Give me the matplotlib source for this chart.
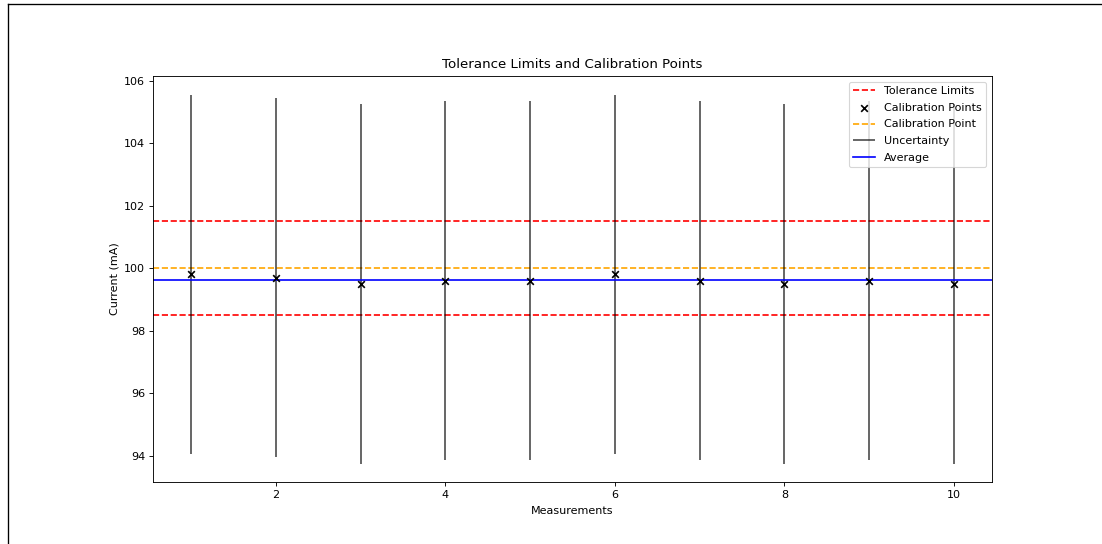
import numpy as np
import matplotlib
matplotlib.use("Agg")
import matplotlib.pyplot as plt
from matplotlib.lines import Line2D

# Calibration readings (mA) and their uncertainty
measurements = np.arange(1, 11)
readings = [99.8, 99.7, 99.5, 99.6, 99.6, 99.8, 99.6, 99.5, 99.6, 99.5]
uncertainty = [5.75] * 10
calibration_point = 100.0
tolerance = [98.5, 101.5]

readings = np.array(readings)
uncertainty = np.array(uncertainty)
average = readings.mean()

DPI = 80
fig = plt.figure(figsize=(1102 / DPI, 544 / DPI), dpi=DPI)
ax = fig.add_axes([0.1388, 0.114, 0.7614, 0.746])

ax.axhline(tolerance[1], color="red", linestyle="--", label="Tolerance Limits")
ax.axhline(tolerance[0], color="red", linestyle="--")
ax.scatter(measurements, readings, marker="x", color="black", label="Calibration Points", zorder=3)
ax.axhline(calibration_point, color="orange", linestyle="--", label="Calibration Point")
ax.vlines(measurements, readings - uncertainty, readings + uncertainty,
          color="black", alpha=0.7, label="Uncertainty")
ax.axhline(average, color="blue", label="Average")

ax.set_title("Tolerance Limits and Calibration Points", pad=7)
ax.set_xlabel("Measurements", labelpad=5.5)
ax.set_ylabel("Current (mA)")
ax.legend(loc="upper right", labelspacing=0.6)

# frame along the left and top edges
fig.add_artist(Line2D([8 / 1102, 8 / 1102], [0, 1 - 4 / 544], color="black", linewidth=1.2))
fig.add_artist(Line2D([8 / 1102, 1], [1 - 4 / 544, 1 - 4 / 544], color="black", linewidth=1.2))

fig.savefig("out.png", dpi=DPI)
